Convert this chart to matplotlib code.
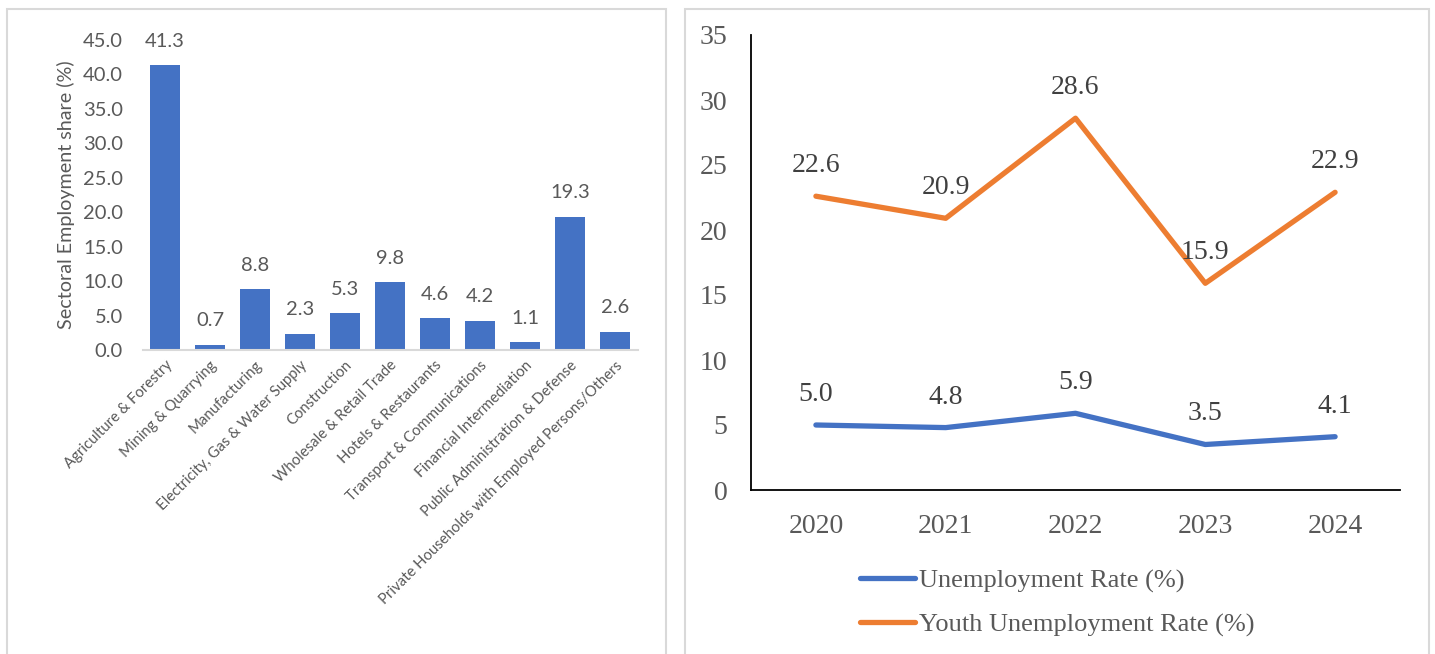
import matplotlib
matplotlib.use("Agg")
import matplotlib.pyplot as plt
from matplotlib.patches import Rectangle

# ---- data ----
sectors = ["Agriculture & Forestry", "Mining & Quarrying", "Manufacturing",
           "Electricity, Gas & Water Supply", "Construction", "Wholesale & Retail Trade",
           "Hotels & Restaurants", "Transport & Communications", "Financial Intermediation",
           "Public Administration & Defense", "Private Households with Employed Persons/Others"]
shares = [41.3, 0.7, 8.8, 2.3, 5.3, 9.8, 4.6, 4.2, 1.1, 19.3, 2.6]
left_yticks = [0, 5, 10, 15, 20, 25, 30, 35, 40, 45]

years = ["2020", "2021", "2022", "2023", "2024"]
unemployment = [5.0, 4.8, 5.9, 3.5, 4.1]
youth_unemployment = [22.6, 20.9, 28.6, 15.9, 22.9]
right_yticks = [0, 5, 10, 15, 20, 25, 30, 35]

W, H = 1435, 654
BLUE = "#4472C4"
ORANGE = "#ED7D31"
GRAY = "#595959"

fig = plt.figure(figsize=(W / 100, H / 100), dpi=100)

def px_axes(x0, x1, ytop, ybot):
    return fig.add_axes([x0 / W, (H - ybot) / H, (x1 - x0) / W, (ybot - ytop) / H])

# panel borders
for (x0, x1) in [(7, 666), (685, 1429)]:
    fig.add_artist(Rectangle((x0 / W, -0.05), (x1 - x0) / W, (H + 30 - 6) / H + 0.0,
                             transform=fig.transFigure, fill=False,
                             edgecolor="#d9d9d9", linewidth=1.5))

# ---- left bar chart ----
axL = px_axes(142.5, 637.5, 40, 350)
xs = list(range(len(sectors)))
axL.bar(xs, shares, width=0.667, color=BLUE, zorder=2)
axL.set_xlim(-0.5, len(sectors) - 0.5)
axL.set_ylim(0, 45)
axL.set_yticks(left_yticks)
axL.set_yticklabels([f"{v:.1f}" for v in left_yticks], fontsize=14.5,
                    fontfamily="Lato", color=GRAY)
axL.tick_params(axis="y", length=0, pad=14)
axL.set_xticks(xs)
axL.set_xticklabels(sectors, rotation=45, ha="right", va="top",
                    rotation_mode="anchor", fontsize=10.7, fontfamily="Lato", color=GRAY)
axL.tick_params(axis="x", length=0, pad=6)
for s in ["top", "right", "left"]:
    axL.spines[s].set_visible(False)
axL.spines["bottom"].set_color("#d9d9d9")
axL.spines["bottom"].set_linewidth(1.5)
axL.set_ylabel("Sectoral Employment share (%)", fontsize=14.2, fontfamily="Lato",
               color=GRAY, labelpad=6)
for x, v in zip(xs, shares):
    axL.annotate(f"{v:.1f}", (x, v), xytext=(0, 17.5), textcoords="offset points",
                 ha="center", va="center", fontsize=14.5, fontfamily="Lato", color=GRAY)

# ---- right line chart ----
axR = px_axes(751, 1400, 35, 490)
xr = list(range(len(years)))
l1, = axR.plot(xr, unemployment, color=BLUE, lw=3.8, solid_capstyle="round",
               solid_joinstyle="round", label="Unemployment Rate (%)")
l2, = axR.plot(xr, youth_unemployment, color=ORANGE, lw=3.8, solid_capstyle="round",
               solid_joinstyle="round", label="Youth Unemployment Rate (%)")
axR.set_xlim(-0.5, len(years) - 0.5)
axR.set_ylim(0, 35)
axR.set_yticks(right_yticks)
axR.set_yticklabels([str(v) for v in right_yticks], fontsize=20,
                    fontfamily="Liberation Serif", color=GRAY)
axR.set_xticks(xr)
axR.set_xticklabels(years, fontsize=20, fontfamily="Liberation Serif", color=GRAY)
axR.tick_params(axis="y", length=0, pad=17)
axR.tick_params(axis="x", length=0, pad=17)
for s in ["top", "right"]:
    axR.spines[s].set_visible(False)
for s in ["left", "bottom"]:
    axR.spines[s].set_color("black")
    axR.spines[s].set_linewidth(1.3)
for series in (unemployment, youth_unemployment):
    for x, v in zip(xr, series):
        axR.annotate(f"{v:.1f}", (x, v), xytext=(0, 22), textcoords="offset points",
                     ha="center", va="center", fontsize=20,
                     fontfamily="Liberation Serif", color="#404040")

fig.legend(handles=[l1, l2], loc="upper left",
           bbox_to_anchor=(860 / W, (H - 569) / H), bbox_transform=fig.transFigure,
           frameon=False, borderpad=0, borderaxespad=0, handlelength=2.1,
           handletextpad=0.15, labelspacing=0.75,
           prop={"family": "Liberation Serif", "size": 19}, labelcolor=GRAY)

fig.savefig("out.png", dpi=100)
